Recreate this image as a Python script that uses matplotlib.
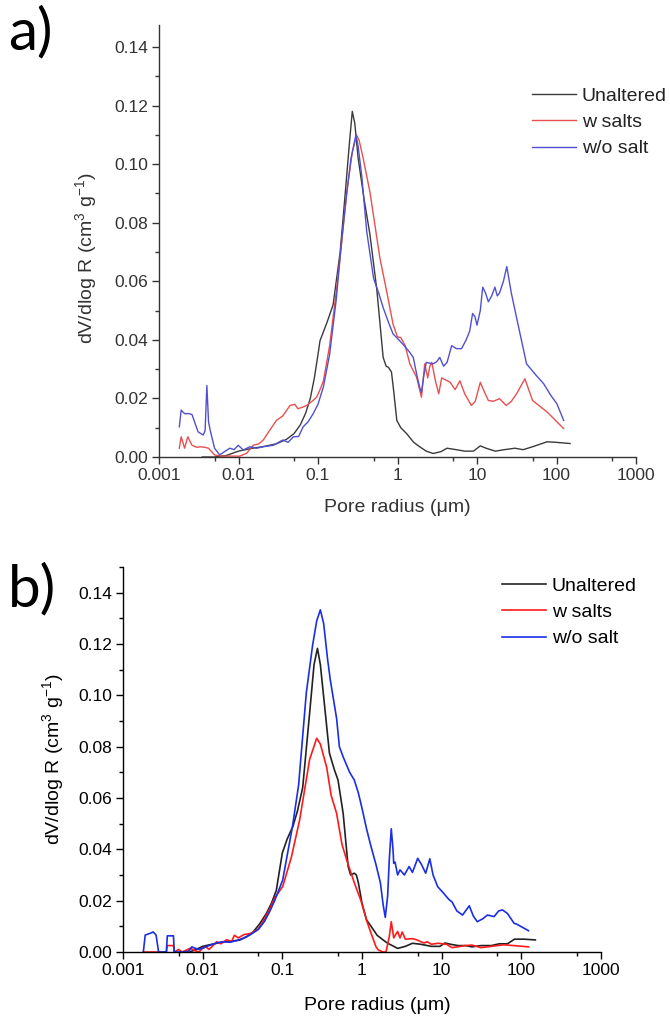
import matplotlib
matplotlib.use("Agg")
import matplotlib.pyplot as plt
from matplotlib.ticker import FixedLocator, NullFormatter, MultipleLocator, FuncFormatter

plt.rcParams['font.family'] = ['Liberation Sans', 'DejaVu Sans']
plt.rcParams['mathtext.fontset'] = 'custom'
plt.rcParams['mathtext.rm'] = 'Liberation Sans'
plt.rcParams['mathtext.it'] = 'Liberation Sans:italic'

# ---------------- data: panel a ----------------
a_unalt_x = [0.0035, 0.005, 0.007, 0.01, 0.015, 0.02, 0.03, 0.04, 0.05, 0.06, 0.07, 0.08, 0.09, 0.1,
             0.106, 0.13, 0.155, 0.19, 0.22, 0.25, 0.27, 0.29, 0.32, 0.38, 0.45, 0.55, 0.66, 0.72, 0.77,
             0.84, 0.9, 0.98, 1.1, 1.3, 1.6, 1.9, 2.3, 2.8, 3.5, 4.2, 5.5, 7, 9, 11, 13, 17, 22, 30, 38,
             50, 76, 100, 148]
a_unalt_y = [0.0, 0.0, 0.0005, 0.002, 0.003, 0.0035, 0.0045, 0.006, 0.008, 0.011, 0.015, 0.02, 0.027,
             0.035, 0.0397, 0.046, 0.052, 0.07, 0.09, 0.108, 0.118, 0.114, 0.102, 0.088, 0.076, 0.057,
             0.034, 0.031, 0.0306, 0.029, 0.022, 0.0125, 0.01, 0.008, 0.005, 0.0035, 0.002, 0.0012,
             0.0018, 0.003, 0.0025, 0.002, 0.002, 0.0038, 0.003, 0.002, 0.0025, 0.003, 0.0025, 0.0035,
             0.0052, 0.005, 0.0046]

a_salt_x = [0.0018, 0.0019, 0.0021, 0.0023, 0.0026, 0.003, 0.0033, 0.0038, 0.0042, 0.005, 0.006, 0.007,
            0.0085, 0.0104, 0.0127, 0.0153, 0.018, 0.0205, 0.0248, 0.030, 0.036, 0.0445, 0.051, 0.056,
            0.064, 0.072, 0.084, 0.096, 0.106, 0.117, 0.14, 0.17, 0.2, 0.23, 0.27, 0.305, 0.33, 0.37,
            0.45, 0.6, 0.75, 0.88, 1.0, 1.1, 1.25, 1.43, 1.74, 2.0, 2.2, 2.4, 2.55, 2.7, 3.0, 3.3, 3.6,
            4.6, 5.3, 6.1, 7.0, 8.5, 9.5, 11, 12.5, 13.9, 16, 19.2, 23.3, 27, 31.5, 40, 50, 76, 123]
a_salt_y = [0.003, 0.0069, 0.003, 0.0069, 0.004, 0.0033, 0.0035, 0.0033, 0.003, 0.0007, 0.0003, 0.0003,
            0.0003, 0.0003, 0.0013, 0.004, 0.0045, 0.0058, 0.0092, 0.0125, 0.014, 0.0176, 0.018, 0.0165,
            0.017, 0.0176, 0.019, 0.0204, 0.023, 0.026, 0.038, 0.0566, 0.074, 0.0905, 0.104, 0.110,
            0.108, 0.102, 0.0905, 0.068, 0.055, 0.0453, 0.041, 0.0408, 0.038, 0.0318, 0.0272, 0.0204,
            0.0318, 0.027, 0.031, 0.0323, 0.026, 0.0216, 0.027, 0.0255, 0.023, 0.026, 0.0216, 0.0176,
            0.019, 0.0255, 0.022, 0.0193, 0.019, 0.0199, 0.0176, 0.019, 0.0216, 0.0267, 0.0193, 0.0154,
            0.0097]

a_wo_x = [0.0018, 0.0019, 0.0021, 0.0024, 0.0026, 0.0031, 0.0036, 0.0038, 0.0040, 0.0042, 0.0044,
          0.005, 0.0058, 0.0068, 0.0078, 0.0088, 0.0099, 0.0115, 0.0139, 0.017, 0.0205, 0.0274, 0.036,
          0.042, 0.049, 0.057, 0.065, 0.075, 0.087, 0.1, 0.117, 0.14, 0.17, 0.2, 0.23, 0.26, 0.29, 0.30,
          0.32, 0.355, 0.41, 0.5, 0.58, 0.66, 0.77, 0.88, 1.0, 1.17, 1.4, 1.58, 1.75, 1.9, 2.0, 2.15,
          2.3, 2.8, 3.1, 3.4, 3.8, 4.2, 4.8, 5.5, 6.4, 7.3, 8.1, 8.8, 9.4, 10, 11, 11.8, 12.8, 13.9,
          15.3, 16.8, 18, 19.2, 21.5, 23.7, 27, 31.5, 42, 55, 69, 85, 101, 123]
a_wo_y = [0.0103, 0.016, 0.0148, 0.0148, 0.0145, 0.0086, 0.0075, 0.009, 0.0244, 0.012, 0.0092, 0.003,
          0.0007, 0.002, 0.003, 0.0025, 0.004, 0.0024, 0.0035, 0.003, 0.0035, 0.004, 0.0058, 0.005,
          0.0069, 0.007, 0.0103, 0.012, 0.0148, 0.018, 0.024, 0.035, 0.054, 0.075, 0.09, 0.102, 0.108,
          0.11, 0.106, 0.096, 0.077, 0.061, 0.056, 0.051, 0.046, 0.042, 0.0405, 0.0385, 0.036, 0.034,
          0.028, 0.0238, 0.022, 0.028, 0.0323, 0.0318, 0.0325, 0.034, 0.031, 0.0323, 0.038, 0.037,
          0.037, 0.040, 0.043, 0.049, 0.048, 0.045, 0.05, 0.058, 0.056, 0.053, 0.055, 0.058, 0.055,
          0.056, 0.060, 0.065, 0.056, 0.0475, 0.0318, 0.028, 0.025, 0.021, 0.0182, 0.0125]

# ---------------- data: panel b ----------------
b_unalt_x = [0.0069, 0.008, 0.01, 0.013, 0.0178, 0.022, 0.029, 0.036, 0.043, 0.052, 0.063, 0.073, 0.084,
             0.1, 0.115, 0.136, 0.155, 0.18, 0.22, 0.25, 0.276, 0.30, 0.34, 0.39, 0.45, 0.50, 0.58,
             0.67, 0.72, 0.80, 0.85, 0.9, 1.0, 1.14, 1.3, 1.55, 1.84, 2.1, 2.4, 2.8, 3.5, 4.3, 5.5, 7.4,
             9.5, 11, 13, 16, 20, 24, 31, 42, 53, 67, 82, 108, 150]
b_unalt_y = [0.0, 0.0008, 0.0022, 0.003, 0.0039, 0.0042, 0.0046, 0.006, 0.0078, 0.011, 0.015, 0.019,
             0.024, 0.0386, 0.044, 0.049, 0.055, 0.064, 0.093, 0.112, 0.1183, 0.112, 0.0956, 0.0775,
             0.071, 0.067, 0.054, 0.0333, 0.030, 0.0307, 0.030, 0.027, 0.019, 0.0125, 0.01, 0.0065,
             0.0047, 0.0034, 0.0025, 0.0014, 0.0022, 0.0034, 0.003, 0.0022, 0.0022, 0.0035, 0.003,
             0.0025, 0.0025, 0.002, 0.0025, 0.0025, 0.0032, 0.0032, 0.005, 0.005, 0.0047]

b_salt_x = [0.0018, 0.0035, 0.0036, 0.0043, 0.0044, 0.005, 0.0055, 0.006, 0.007, 0.008, 0.009, 0.01,
            0.011, 0.012, 0.014, 0.015, 0.017, 0.02, 0.023, 0.025, 0.028, 0.033, 0.04, 0.05, 0.06, 0.07,
            0.08, 0.101, 0.13, 0.165, 0.22, 0.27, 0.3, 0.36, 0.41, 0.48, 0.56, 0.64, 0.8, 0.97, 1.15,
            1.3, 1.5, 1.6, 1.84, 2.0, 2.2, 2.33, 2.5, 2.8, 3.0, 3.2, 3.5, 4.3, 4.9, 6.0, 6.6, 7.4, 9.0,
            11.5, 13.5, 20, 24, 31, 42, 60, 80, 123]
b_salt_y = [0.0, 0.0, 0.0025, 0.0025, 0.0, 0.001, 0.0, 0.0005, 0.0015, 0.0005, 0.0, 0.0015, 0.002, 0.001,
            0.003, 0.004, 0.0032, 0.0048, 0.004, 0.0065, 0.0055, 0.0068, 0.0072, 0.009, 0.013, 0.017,
            0.021, 0.0255, 0.037, 0.0515, 0.075, 0.0833, 0.081, 0.072, 0.061, 0.054, 0.042, 0.036,
            0.027, 0.02, 0.012, 0.0073, 0.002, 0.0008, 0.0, 0.0, 0.006, 0.0118, 0.0055, 0.008, 0.0055,
            0.0078, 0.005, 0.0052, 0.0047, 0.0035, 0.004, 0.003, 0.0034, 0.003, 0.0017, 0.0025, 0.0027,
            0.0017, 0.0022, 0.0028, 0.0025, 0.002]

b_wo_x = [0.0018, 0.0019, 0.0022, 0.0024, 0.0026, 0.0028, 0.0030, 0.0035, 0.0036, 0.0043, 0.0044,
          0.005, 0.006, 0.0068, 0.0073, 0.008, 0.009, 0.01, 0.012, 0.015, 0.018, 0.022, 0.027, 0.033,
          0.04, 0.05, 0.06, 0.07, 0.08, 0.101, 0.134, 0.16, 0.2, 0.24, 0.27, 0.30, 0.33, 0.37, 0.40,
          0.48, 0.52, 0.58, 0.7, 0.8, 0.9, 1.0, 1.14, 1.3, 1.5, 1.7, 1.85, 1.96, 2.1, 2.2, 2.33, 2.45,
          2.5, 2.6, 2.8, 3.0, 3.2, 3.4, 3.9, 4.3, 5.0, 5.6, 6.3, 7.1, 7.8, 8.9, 9.5, 10.5, 12.3, 13.5,
          15.5, 18.3, 22.2, 25, 28, 33, 37.5, 45.5, 52, 58, 67, 81, 88, 123]
b_wo_y = [0.0, 0.0066, 0.0073, 0.0078, 0.0066, 0.0, 0.0, 0.0, 0.0063, 0.0063, 0.0, 0.0, 0.0, 0.0005,
          0.002, 0.0015, 0.001, 0.0015, 0.0025, 0.0035, 0.004, 0.0038, 0.0045, 0.0055, 0.0068, 0.0088,
          0.012, 0.016, 0.02, 0.028, 0.0489, 0.065, 0.101, 0.1196, 0.129, 0.1333, 0.128, 0.114, 0.106,
          0.091, 0.08, 0.076, 0.07, 0.067, 0.062, 0.056, 0.048, 0.041, 0.034, 0.027, 0.018, 0.0135,
          0.022, 0.036, 0.048, 0.040, 0.0346, 0.035, 0.030, 0.032, 0.031, 0.030, 0.0333, 0.031, 0.0365,
          0.034, 0.0307, 0.0363, 0.030, 0.0255, 0.0245, 0.023, 0.0205, 0.0195, 0.016, 0.0144, 0.018,
          0.014, 0.0118, 0.013, 0.0144, 0.0138, 0.016, 0.0164, 0.015, 0.0112, 0.0108, 0.0083]

labels = ['Unaltered', 'w salts', 'w/o salt']
x_major = [0.001, 0.01, 0.1, 1, 10, 100, 1000]
x_major_labels = ['0.001', '0.01', '0.1', '1', '10', '100', '1000']
x_minor = [0.005, 0.05, 0.5, 5, 50, 500]
y_major = [0.00, 0.02, 0.04, 0.06, 0.08, 0.10, 0.12, 0.14]

W, H = 670, 1016
fig = plt.figure(figsize=(W / 100, H / 100), dpi=100)


def make_axes(rect, txtcol, colors, lw, series, ylim, legend_xy, xlabel_xy, ylabel_xy, panel, panel_xy):
    l, r, t, b = rect
    ax = fig.add_axes([l / W, 1 - b / H, (r - l) / W, (b - t) / H])
    for (xs, ys), c, lab in zip(series, colors, labels):
        ax.plot(xs, ys, color=c, lw=lw, label=lab)
    ax.set_xscale('log')
    ax.set_xlim(0.001, 1000)
    ax.set_ylim(*ylim)
    ax.xaxis.set_major_locator(FixedLocator(x_major))
    ax.xaxis.set_major_formatter(FuncFormatter(
        lambda v, p: x_major_labels[x_major.index(min(x_major, key=lambda m: abs(m - v)))]))
    ax.xaxis.set_minor_locator(FixedLocator(x_minor))
    ax.xaxis.set_minor_formatter(NullFormatter())
    ax.yaxis.set_major_locator(FixedLocator(y_major))
    ax.yaxis.set_major_formatter(FuncFormatter(lambda v, p: f'{v:.2f}'))
    ax.yaxis.set_minor_locator(MultipleLocator(0.01))
    for s in ['top', 'right']:
        ax.spines[s].set_visible(False)
    for s in ['left', 'bottom']:
        ax.spines[s].set_color(txtcol)
        ax.spines[s].set_linewidth(1.0)
    ax.tick_params(which='major', direction='out', length=5, width=1.0, color=txtcol,
                   labelsize=12.5, labelcolor=txtcol, pad=3)
    ax.tick_params(which='minor', direction='out', length=3, width=1.0, color=txtcol)
    ax.set_xlabel('Pore radius (μm)', fontsize=14, color=txtcol)
    ax.set_ylabel('dV/dlog R (cm$^3$ g$^{-1}$)', fontsize=14, color=txtcol)
    ax.xaxis.set_label_coords(*xlabel_xy)
    ax.yaxis.set_label_coords(*ylabel_xy)
    leg = fig.legend(loc='upper left', bbox_to_anchor=(legend_xy[0] / W, 1 - legend_xy[1] / H),
                     frameon=False, fontsize=14, handlelength=2.25, handletextpad=0.3,
                     labelspacing=0.45, borderpad=0, borderaxespad=0,
                     handles=ax.get_lines())
    for tx in leg.get_texts():
        tx.set_color(txtcol if panel == 'b)' else '#222222')
    fig.text(panel_xy[0] / W, 1 - panel_xy[1] / H, panel, fontsize=42, family='Lato',
             ha='left', va='center', color='black')
    return ax


make_axes((159, 636, 25, 457), '#333333', ['#3a3a3a', '#e8504f', '#5050d0'], 1.0,
          [(a_unalt_x, a_unalt_y), (a_salt_x, a_salt_y), (a_wo_x, a_wo_y)],
          (0, 0.1475), (532, 87), (0.50, -0.098), (-0.126, 0.46), 'a)', (8, 33))

make_axes((123, 601, 567, 952), '#000000', ['#222222', '#ff1a1a', '#1a2ee6'], 1.2,
          [(b_unalt_x, b_unalt_y), (b_salt_x, b_salt_y), (b_wo_x, b_wo_y)],
          (0, 0.15), (502, 577), (0.531, -0.118), (-0.12, 0.50), 'b)', (8, 590))

fig.savefig('out.png', dpi=100)
